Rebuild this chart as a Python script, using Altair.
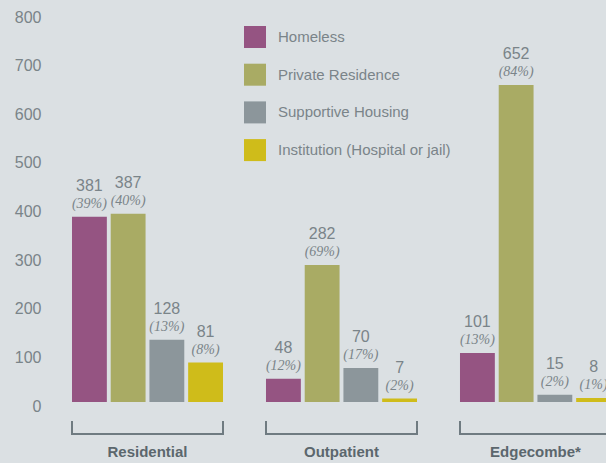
import altair as alt
import pandas as pd

groups = ["Residential", "Outpatient", "Edgecombe*"]
series = ["Homeless", "Private Residence", "Supportive Housing", "Institution (Hospital or jail)"]
residential = [381, 387, 128, 81]
outpatient = [48, 282, 70, 7]
edgecombe = [101, 652, 15, 8]
residential_pct = [39, 40, 13, 8]
outpatient_pct = [12, 69, 17, 2]
edgecombe_pct = [13, 84, 2, 1]
colors = ["#955482", "#a9ab64", "#8c969b", "#cfbc1a"]
y_ticks = [0, 100, 200, 300, 400, 500, 600, 700, 800]

BG = "#dbe0e3"
TXT = "#7a8489"
DARK = "#5b676d"
BRACKET = "#6f7b81"

rows = []
for g, vals, pcts in zip(groups, [residential, outpatient, edgecombe],
                         [residential_pct, outpatient_pct, edgecombe_pct]):
    for s, v, p in zip(series, vals, pcts):
        rows.append({"group": g, "series": s, "value": v,
                     "num": str(v), "pct": f"({p}%)"})
df = pd.DataFrame(rows)
bdf = pd.DataFrame({"group": groups})

xscale = alt.Scale(domain=groups, range=[0, 587],
                   paddingInner=0.2216, paddingOuter=0.1237)
xaxis = alt.Axis(title=None, domain=False, ticks=False, labelAngle=0,
                 labelFont="Liberation Sans", labelFontWeight="bold",
                 labelFontSize=15, labelColor=DARK, labelPadding=42)
x = alt.X("group:N", sort=groups, scale=xscale, axis=xaxis)
xo = alt.XOffset("series:N", sort=series,
                 scale=alt.Scale(domain=series, paddingInner=0.1, paddingOuter=0))
y = alt.Y("value:Q", scale=alt.Scale(domain=[0, 800], nice=False),
          axis=alt.Axis(title=None, values=y_ticks, grid=False, domain=False,
                        ticks=False, labelPadding=7, labelFontSize=16,
                        labelColor=TXT, labelFont="Liberation Sans",
                        labelOffset=4))

base = alt.Chart(df)
bars = base.mark_bar().encode(
    x=x, xOffset=xo, y=y,
    color=alt.Color("series:N", sort=series,
                    scale=alt.Scale(domain=series, range=colors),
                    legend=alt.Legend(title=None, orient="none", legendX=196,
                                      legendY=13, symbolType="square",
                                      symbolSize=484, symbolStrokeWidth=0,
                                      symbolOpacity=1, labelFontSize=15,
                                      labelFont="Liberation Sans",
                                      labelColor=TXT, labelOffset=12,
                                      rowPadding=15.7, labelLimit=400)),
)
nums = base.mark_text(dy=-31, fontSize=16, font="Liberation Sans",
                      color=TXT, baseline="middle").encode(
    x=x, xOffset=xo, y=y, text="num:N")
pcts = base.mark_text(dy=-13, fontSize=14, font="Liberation Serif",
                      fontStyle="italic", color=TXT, baseline="middle").encode(
    x=x, xOffset=xo, y=y, text="pct:N")

bbase = alt.Chart(bdf)
hline = bbase.mark_rect(color=BRACKET).encode(
    x=x, y=alt.value(420), y2=alt.value(422))
lt = bbase.mark_rule(color=BRACKET, strokeWidth=2).encode(
    x=alt.X("group:N", sort=groups, scale=xscale, axis=xaxis, bandPosition=0),
    y=alt.value(408), y2=alt.value(422))
rt = bbase.mark_rule(color=BRACKET, strokeWidth=2).encode(
    x=alt.X("group:N", sort=groups, scale=xscale, axis=xaxis, bandPosition=1),
    y=alt.value(408), y2=alt.value(422))

chart = alt.layer(bars, nums, pcts, hline, lt, rt).properties(
    width=558, height=389, background=BG,
    padding={"left": 40, "top": 5, "right": 0, "bottom": 61},
    autosize=alt.AutoSizeParams(type="none"),
).configure_view(stroke=None)

chart.save("out.html", embed_options={
    "renderer": "svg", "actions": False,
    "defaultStyle": "body{background:#dbe0e3;margin:8px 0 0 8px;overflow:hidden}"})
